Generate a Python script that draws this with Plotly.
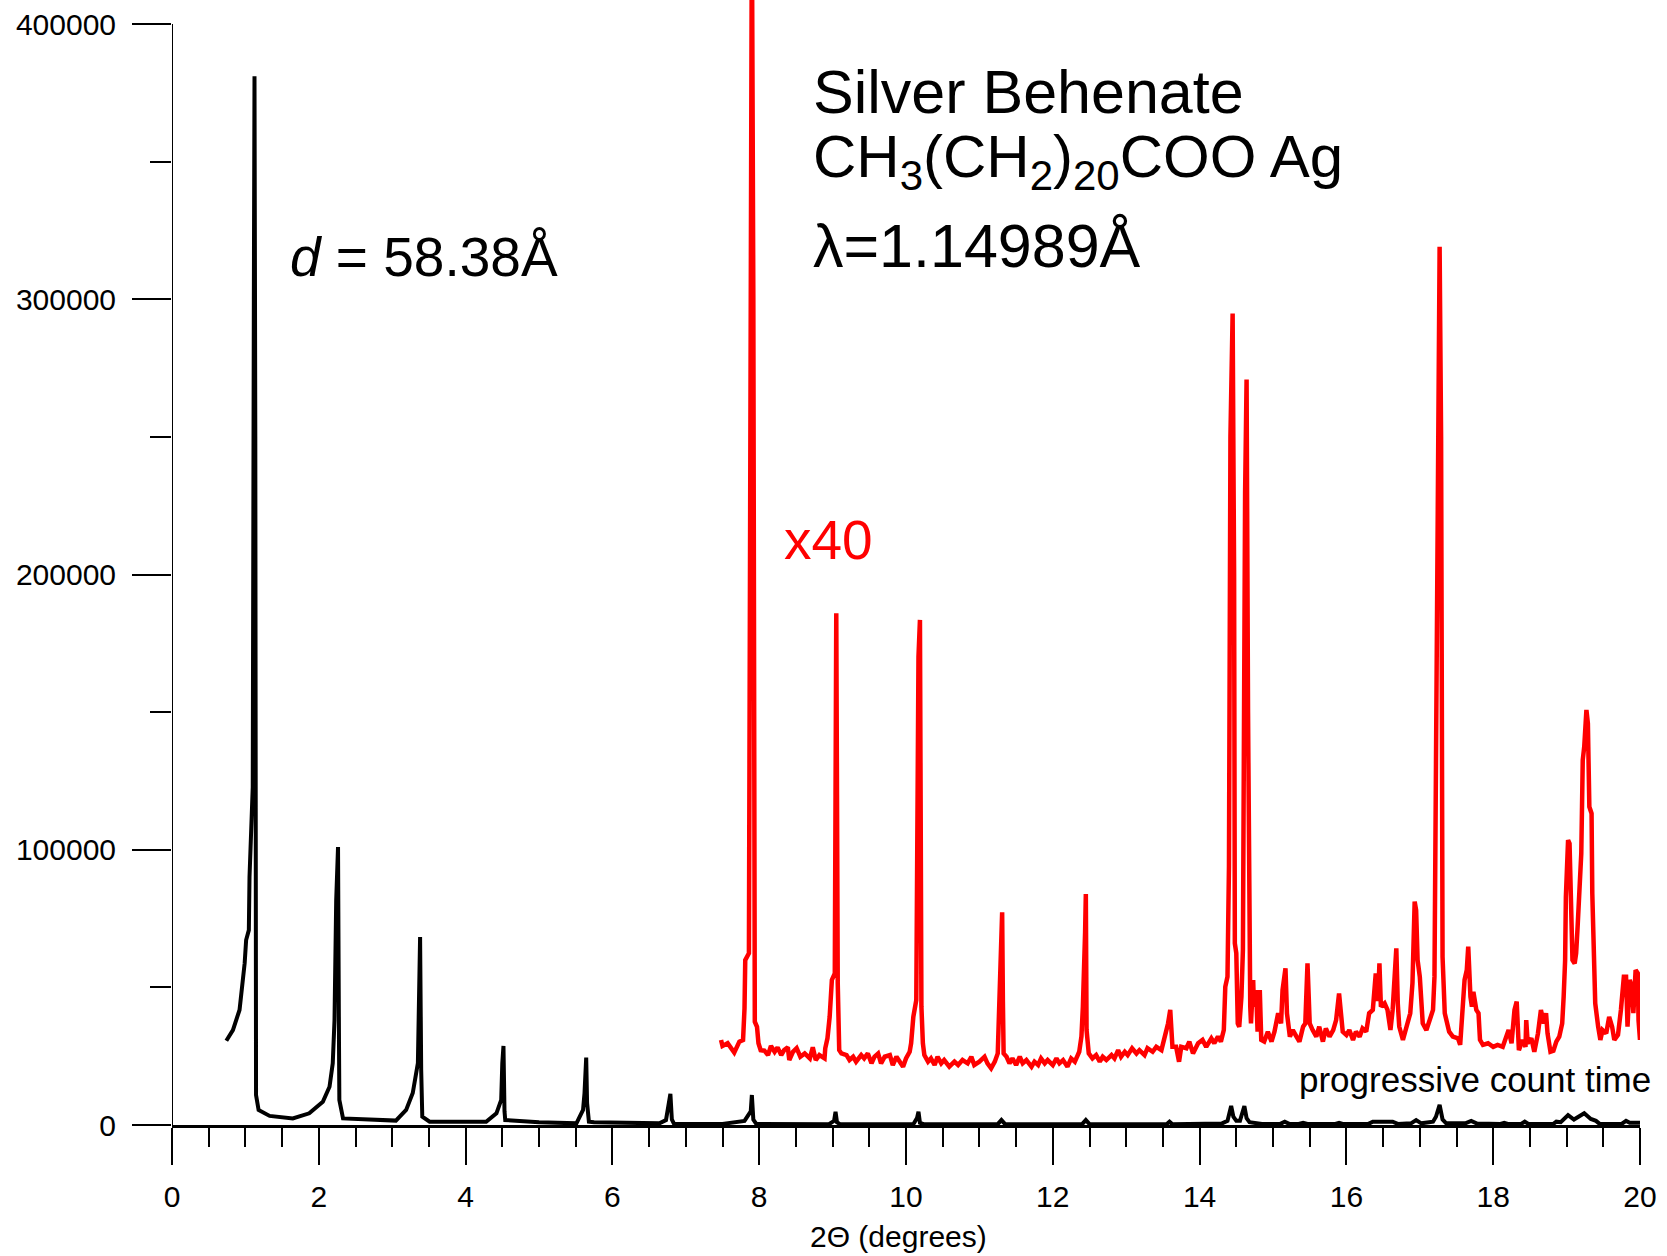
import plotly.graph_objects as go

# ---------------- data ----------------
# black trace: measured intensity vs 2-theta
black_two_theta = [
    0.74, 0.83, 0.92, 0.965, 0.99, 1.01, 1.047, 1.056, 1.079, 1.10,
    1.115, 1.124, 1.135, 1.145, 1.18, 1.33, 1.646, 1.87, 2.055, 2.146,
    2.19, 2.214, 2.237, 2.262, 2.275, 2.28, 2.33, 3.05, 3.19, 3.28,
    3.35, 3.36, 3.38, 3.395, 3.41, 3.51, 4.28, 4.42, 4.485, 4.50,
    4.516, 4.53, 4.54, 5.00, 5.51, 5.60, 5.62, 5.643, 5.655, 5.68,
    5.75, 6.64, 6.73, 6.79, 6.81, 6.84, 7.50, 7.80, 7.86, 7.885,
    7.90, 7.92, 7.96, 8.95, 9.02, 9.04, 9.06, 9.10, 10.10, 10.15,
    10.17, 10.19, 10.24, 11.25, 11.30, 11.35, 12.40, 12.45, 12.50, 13.55,
    13.59, 13.63, 14.30, 14.38, 14.43, 14.46, 14.50, 14.55, 14.61, 14.64,
    14.68, 14.77, 14.85, 15.10, 15.16, 15.22, 15.35, 15.41, 15.47, 15.85,
    15.90, 15.95, 16.30, 16.36, 16.63, 16.70, 16.88, 16.95, 17.02, 17.18,
    17.22, 17.27, 17.31, 17.36, 17.62, 17.70, 17.78, 18.10, 18.15, 18.20,
    18.38, 18.43, 18.48, 18.82, 18.86, 18.92, 19.02, 19.10, 19.24, 19.33,
    19.40, 19.45, 19.75, 19.81, 19.86, 20.00,
]
black_counts = [
    30600, 34500, 41800, 51500, 58800, 67200, 70800, 90100, 114400, 122800,
    300000, 381000, 250000, 10900, 5450, 3300, 2400, 4250, 8450, 13900,
    22400, 38100, 81700, 101000, 30000, 9100, 2400, 1600, 5450, 11600,
    22500, 38100, 68300, 20000, 3000, 1200, 1200, 4250, 9100, 22500,
    28700, 5000, 1800, 1000, 600, 5450, 11600, 24500, 8000, 1200,
    1000, 600, 1800, 11300, 2000, 400, 400, 1500, 4250, 5000,
    10900, 2000, 400, 300, 1500, 4800, 1000, 300, 300, 2500,
    4800, 800, 300, 300, 1800, 300, 300, 1800, 300, 300,
    1200, 300, 500, 1500, 6900, 3000, 1500, 1500, 6900, 2500,
    1000, 850, 400, 400, 1200, 400, 400, 800, 400, 400,
    800, 400, 400, 1200, 1200, 400, 600, 1800, 600, 1200,
    3000, 7300, 2000, 600, 600, 1500, 500, 400, 800, 400,
    400, 1200, 400, 400, 1200, 1000, 3600, 2000, 4250, 2200,
    1500, 400, 400, 1500, 800, 800,
]

# red trace: the same scan multiplied by 40
red_two_theta = [
    7.48, 7.50, 7.57, 7.66, 7.73, 7.78, 7.80, 7.81, 7.86, 7.88,
    7.90, 7.92, 7.93, 7.94, 7.97, 7.99, 8.02, 8.07, 8.12, 8.16,
    8.21, 8.25, 8.30, 8.34, 8.39, 8.41, 8.46, 8.51, 8.56, 8.62,
    8.69, 8.73, 8.77, 8.82, 8.89, 8.90, 8.93, 8.96, 8.99, 9.03,
    9.04, 9.05, 9.06, 9.07, 9.09, 9.12, 9.19, 9.23, 9.28, 9.32,
    9.39, 9.43, 9.48, 9.53, 9.57, 9.62, 9.66, 9.71, 9.78, 9.82,
    9.87, 9.91, 9.96, 10.00, 10.05, 10.07, 10.10, 10.14, 10.17, 10.19,
    10.20, 10.21, 10.23, 10.25, 10.30, 10.34, 10.39, 10.43, 10.48, 10.52,
    10.59, 10.66, 10.71, 10.77, 10.84, 10.89, 10.93, 11.00, 11.07, 11.11,
    11.16, 11.21, 11.25, 11.27, 11.29, 11.31, 11.32, 11.33, 11.37, 11.41,
    11.45, 11.50, 11.55, 11.59, 11.64, 11.71, 11.75, 11.80, 11.84, 11.89,
    11.93, 12.00, 12.05, 12.09, 12.14, 12.20, 12.25, 12.30, 12.34, 12.36,
    12.39, 12.41, 12.44, 12.45, 12.46, 12.49, 12.54, 12.59, 12.64, 12.68,
    12.73, 12.80, 12.84, 12.89, 12.93, 12.98, 13.02, 13.08, 13.14, 13.18,
    13.25, 13.29, 13.36, 13.41, 13.48, 13.52, 13.57, 13.60, 13.63, 13.68,
    13.72, 13.75, 13.82, 13.86, 13.91, 13.98, 14.04, 14.09, 14.16, 14.20,
    14.25, 14.29, 14.33, 14.35, 14.38, 14.40, 14.42, 14.45, 14.47, 14.48,
    14.50, 14.52, 14.54, 14.57, 14.59, 14.62, 14.64, 14.66, 14.68, 14.69,
    14.70, 14.73, 14.74, 14.77, 14.79, 14.82, 14.84, 14.88, 14.93, 14.98,
    15.02, 15.07, 15.11, 15.13, 15.17, 15.19, 15.23, 15.27, 15.32, 15.36,
    15.41, 15.44, 15.47, 15.50, 15.54, 15.59, 15.63, 15.68, 15.72, 15.77,
    15.82, 15.86, 15.90, 15.93, 15.95, 16.00, 16.04, 16.09, 16.13, 16.18,
    16.22, 16.27, 16.31, 16.36, 16.40, 16.43, 16.45, 16.47, 16.52, 16.56,
    16.60, 16.63, 16.66, 16.68, 16.70, 16.72, 16.77, 16.82, 16.87, 16.90,
    16.93, 16.95, 16.97, 17.00, 17.02, 17.04, 17.09, 17.13, 17.18, 17.20,
    17.22, 17.25, 17.27, 17.29, 17.31, 17.34, 17.38, 17.40, 17.45, 17.52,
    17.55, 17.57, 17.61, 17.64, 17.66, 17.69, 17.71, 17.73, 17.77, 17.80,
    17.82, 17.86, 17.93, 18.00, 18.06, 18.13, 18.18, 18.21, 18.25, 18.29,
    18.32, 18.35, 18.40, 18.44, 18.45, 18.47, 18.52, 18.56, 18.61, 18.65,
    18.69, 18.72, 18.74, 18.78, 18.82, 18.86, 18.90, 18.94, 18.96, 18.98,
    18.99, 19.02, 19.04, 19.06, 19.08, 19.11, 19.13, 19.15, 19.18, 19.20,
    19.22, 19.24, 19.27, 19.29, 19.31, 19.34, 19.35, 19.37, 19.39, 19.43,
    19.46, 19.49, 19.54, 19.58, 19.62, 19.65, 19.70, 19.74, 19.78, 19.81,
    19.83, 19.86, 19.89, 19.91, 19.94, 19.97, 19.98, 20.00,
]
red_counts = [
    30900, 28700, 29700, 26300, 30300, 30900, 42400, 59900, 62400, 200000,
    440000, 300000, 150000, 37500, 35700, 29700, 27200, 27000, 25400, 28700,
    26600, 28200, 25400, 27200, 28200, 23600, 26600, 27900, 24800, 26000,
    24200, 28200, 23600, 25400, 24200, 27900, 31500, 39300, 52700, 55100,
    120000, 185900, 120000, 51500, 27200, 26000, 25400, 23600, 24800, 23000,
    25400, 24200, 26000, 22400, 24800, 26000, 22400, 24800, 25400, 21800,
    24800, 23000, 21200, 24200, 26600, 29700, 39300, 45400, 170000, 183500,
    120000, 43000, 29700, 25400, 23000, 24200, 21800, 24800, 22400, 23600,
    21200, 23000, 21800, 23600, 22400, 24800, 21800, 23000, 24800, 22400,
    20600, 23000, 26000, 43000, 65000, 77300, 45000, 26000, 24800, 22400,
    24200, 21800, 24800, 22400, 23600, 21200, 23000, 21800, 24200, 22400,
    23600, 21800, 24200, 22400, 23600, 21200, 24200, 23000, 25400, 26600,
    32100, 43000, 70000, 83900, 34500, 26000, 24200, 25400, 23000, 24800,
    23600, 25400, 24200, 27200, 24800, 26600, 25400, 27900, 26000, 27200,
    25400, 27900, 26600, 28400, 27200, 30900, 36900, 41800, 28400, 28400,
    23000, 28400, 27900, 30300, 26000, 29700, 30900, 28400, 31500, 29700,
    32100, 30300, 34500, 50200, 53900, 93800, 250000, 294800, 200000, 66000,
    62400, 36900, 35700, 46600, 63600, 230000, 270800, 150000, 53900, 43000,
    36900, 52700, 43000, 49000, 33900, 49000, 30900, 30300, 33900, 30300,
    33900, 40600, 36900, 49000, 56900, 40600, 32100, 34500, 32100, 30300,
    35700, 36900, 58700, 36900, 34500, 32100, 35700, 30300, 35100, 32100,
    34500, 38100, 47800, 38100, 33900, 32700, 34500, 30900, 33900, 32100,
    35100, 33900, 40600, 41800, 55100, 45000, 58700, 43000, 44200, 41800,
    34500, 41800, 53900, 64200, 44200, 35700, 30900, 35700, 40600, 51500,
    81200, 78000, 59900, 53900, 43000, 36900, 34500, 38100, 41800, 53900,
    150000, 260000, 319100, 250000, 61100, 40600, 36900, 33900, 32100, 31500,
    29100, 36900, 52700, 56300, 64800, 46600, 43000, 48400, 41800, 40600,
    30900, 29100, 29700, 28400, 29100, 28400, 32100, 34500, 29700, 41800,
    44800, 27200, 30900, 28400, 38100, 29700, 31500, 26600, 33300, 41800,
    36900, 40600, 33300, 26600, 27000, 30300, 32100, 36900, 46600, 59900,
    82900, 103500, 102300, 76900, 59900, 58700, 62400, 72000, 89000, 98700,
    132600, 137400, 150800, 145900, 115600, 113200, 84200, 59900, 44200, 35700,
    30900, 34500, 33300, 39300, 35700, 30900, 32700, 41800, 53900, 53900,
    35700, 52700, 50200, 40600, 56300, 55100, 38100, 30900,
]

x_tick_values = [0, 2, 4, 6, 8, 10, 12, 14, 16, 18, 20]
y_tick_values = [0, 100000, 200000, 300000, 400000]
y_tick_labels = ["0", "100000", "200000", "300000", "400000"]

FONT = "Arial, Liberation Sans, sans-serif"

fig = go.Figure()
fig.add_trace(go.Scatter(
    x=black_two_theta, y=black_counts, mode="lines",
    line=dict(color="black", width=4), showlegend=False, hoverinfo="skip",
))
fig.add_trace(go.Scatter(
    x=red_two_theta, y=red_counts, mode="lines",
    line=dict(color="#ff0000", width=4.5), showlegend=False, hoverinfo="skip",
))

# y-axis line drawn only up to the 400000 tick
fig.add_shape(type="line", xref="x", yref="y", x0=0, x1=0,
              y0=0, y1=y_tick_values[-1], line=dict(color="black", width=2))

fig.update_layout(
    width=1667, height=1256, autosize=False,
    margin=dict(l=172, r=27, t=0, b=131, pad=0),
    paper_bgcolor="white", plot_bgcolor="white",
    font=dict(family=FONT, color="black"),
    xaxis=dict(
        range=[0, 20], tickvals=x_tick_values, showgrid=False, zeroline=False,
        showline=True, linecolor="black", linewidth=3,
        ticks="outside", ticklen=37, tickwidth=2, tickcolor="black",
        tickfont=dict(size=30, family=FONT), ticklabelstandoff=6,
        minor=dict(dtick=0.5, ticks="outside", ticklen=19, tickwidth=2,
                   tickcolor="black", showgrid=False),
    ),
    yaxis=dict(
        range=[0, 408720], tickvals=y_tick_values, ticktext=y_tick_labels,
        showgrid=False, zeroline=False, showline=False,
        ticks="outside", ticklen=39, tickwidth=2, tickcolor="black",
        tickfont=dict(size=30, family=FONT), ticklabelstandoff=10,
        minor=dict(dtick=50000, ticks="outside", ticklen=21, tickwidth=2,
                   tickcolor="black", showgrid=False),
    ),
)

ann = [
    dict(x=1.587, y=315350, text="<i>d</i> = 58.38Å", font=dict(size=55)),
    dict(x=8.71, y=375290, text="Silver Behenate", font=dict(size=61)),
    dict(x=8.71, y=350220, text="CH<sub>3</sub>(CH<sub>2</sub>)<sub>20</sub>COO Ag",
         font=dict(size=60)),
    dict(x=8.71, y=319340, text="λ=1.14989Å", font=dict(size=61)),
    dict(x=8.317, y=212500, text="x40", font=dict(size=55, color="#ff0000")),
]
for a in ann:
    fig.add_annotation(xref="x", yref="y", xanchor="left", yanchor="middle",
                       showarrow=False, **a)
fig.add_annotation(xref="paper", yref="y", x=1.0089, y=16700, xanchor="right",
                   yanchor="middle", showarrow=False,
                   text="progressive count time", font=dict(size=35))
fig.add_annotation(xref="x", yref="paper", x=9.9, y=-0.0987, xanchor="center",
                   yanchor="middle", showarrow=False,
                   text="2Θ (degrees)", font=dict(size=30))

fig.write_html("out.html")
